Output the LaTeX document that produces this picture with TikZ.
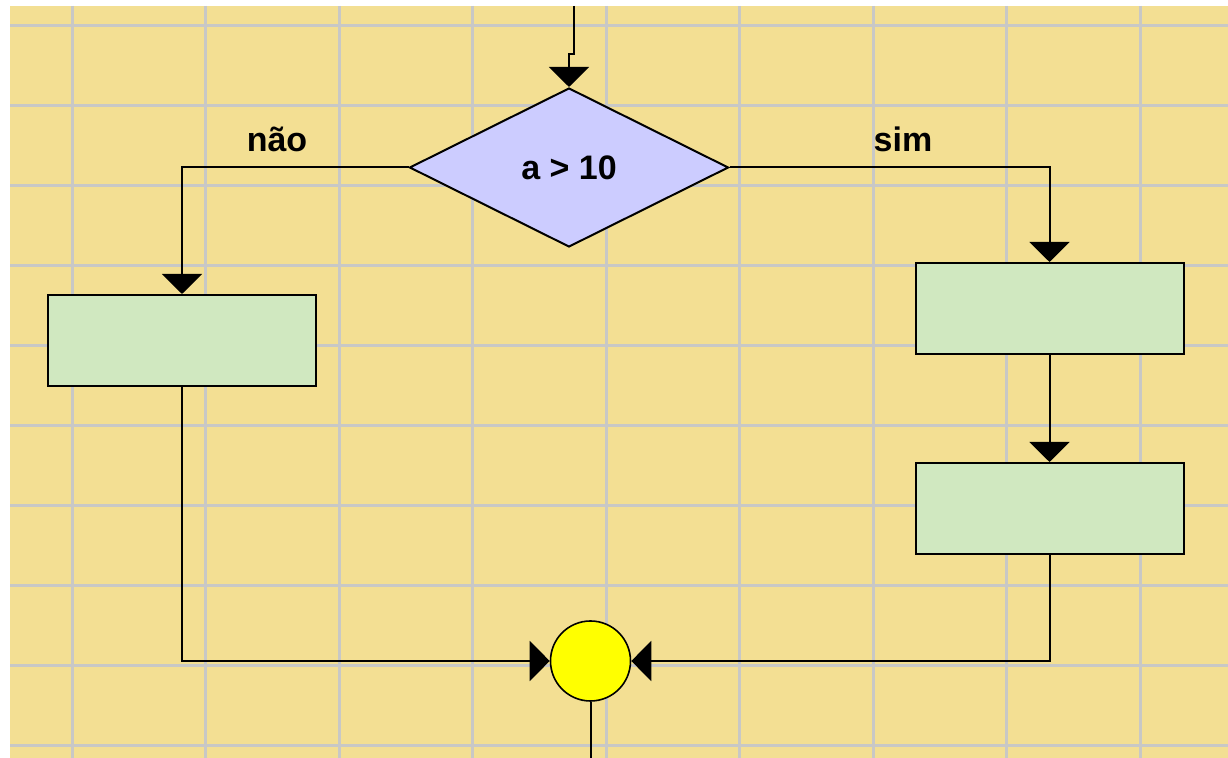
\documentclass[tikz,border=0pt]{standalone}
\usepackage{fontspec}
\setmainfont{Liberation Sans}
\usetikzlibrary{shapes.geometric,arrows.meta}

\definecolor{sheet}{RGB}{243,223,147}
\definecolor{gridc}{RGB}{200,200,198}
\definecolor{decfill}{RGB}{204,204,255}
\definecolor{procfill}{RGB}{208,232,192}
\definecolor{joinfill}{RGB}{255,255,0}

\tikzset{
  flow/.style={line width=1pt, draw=black},
  tip/.style={-{Triangle[length=10pt,width=20pt]}},
  decision/.style={diamond, draw=black, line width=1pt, fill=decfill,
    minimum width=159.5pt, minimum height=79.5pt, inner sep=0pt,
    font=\fontsize{17}{20}\selectfont\bfseries},
  process/.style={rectangle, draw=black, line width=1pt, fill=procfill,
    minimum width=134pt, minimum height=45.5pt, inner sep=0pt},
  junction/.style={circle, draw=black, line width=0.8pt, fill=joinfill,
    minimum size=40pt, inner sep=0pt},
  branchlabel/.style={font=\fontsize{17}{20}\selectfont\bfseries, inner sep=0pt, anchor=base}
}

\begin{document}
\begin{tikzpicture}[x=0.5pt, y=-0.5pt]
  % page and spreadsheet background
  \useasboundingbox (0,0) rectangle (1228,758);
  \fill[white] (0,0) rectangle (1228,758);
  \fill[sheet] (10,6) rectangle (1228,758);
  \begin{scope}
    \clip (10,6) rectangle (1228,758);
    \foreach \i in {0,...,8}
      \draw[gridc, line width=1.5pt] ({72+133.5*\i},6) -- ({72+133.5*\i},758);
    \foreach \j in {0,...,9}
      \draw[gridc, line width=1.5pt] (10,{26+80*\j}) -- (1228,{26+80*\j});
  \end{scope}

  % flowchart nodes
  \node[decision] (cond) at (569,167.5) {a > 10};
  \node[process] (left)  at (182,340.5) {};
  \node[process] (right1) at (1049.5,308.5) {};
  \node[process] (right2) at (1049.5,508.5) {};
  \node[junction] (join) at (590.5,661) {};

  \coordinate (entry) at (574,6);
  \coordinate (jog) at (574,54);
  \coordinate (exit) at (590.5,758);

  % branch labels
  \node[branchlabel] (lblno)  at (277,152) {não};
  \node[branchlabel] (lblyes) at (903,152) {sim};

  % connectors
  \draw[flow, tip] (entry) -- (jog) -- (cond.north |- jog) -- (cond.north);
  \draw[flow, tip] (cond.west) -| (left.north);
  \draw[flow, tip] (cond.east) -| (right1.north);
  \draw[flow, tip] (right1.south) -- (right2.north);
  \draw[flow, tip] (left.south) |- (join.west);
  \draw[flow, tip] (right2.south) |- (join.east);
  \draw[flow] (join.south) -- (exit);
\end{tikzpicture}
\end{document}
